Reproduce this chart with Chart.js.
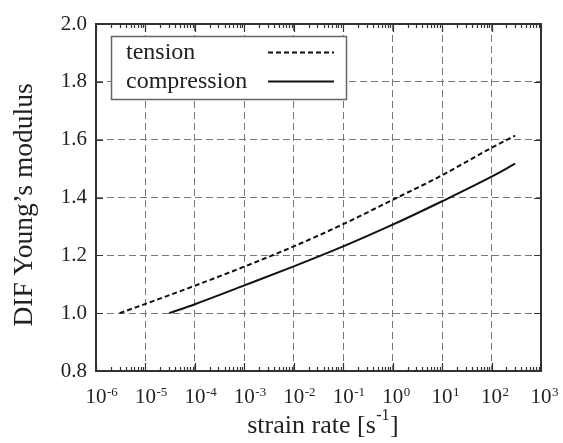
<!DOCTYPE html>
<html>
<head>
<meta charset="utf-8">
<script src="https://cdn.jsdelivr.net/npm/chart.js@4.4.0/dist/chart.umd.min.js"></script>
<style>
  html, body { margin: 0; padding: 0; background: #fff; }
  canvas { display: block; }
</style>
</head>
<body>
<canvas id="difChart" width="563" height="443"></canvas>
<script>
// strain rate [1/s] and dynamic increase factor of Young's modulus
const tensionRate = [3e-6, 1e-5, 1e-4, 1e-3, 1e-2, 1e-1, 1, 10, 100, 300];
const tensionDIF  = [1.000, 1.032, 1.095, 1.161, 1.231, 1.308, 1.392, 1.477, 1.572, 1.614];

const compressionRate = [3e-5, 1e-4, 1e-3, 1e-2, 1e-1, 1, 10, 100, 300];
const compressionDIF  = [1.000, 1.031, 1.096, 1.162, 1.231, 1.306, 1.387, 1.472, 1.517];

const decades = [-6, -5, -4, -3, -2, -1, 0, 1, 2, 3];
const yTicks = [0.8, 1.0, 1.2, 1.4, 1.6, 1.8, 2.0];

const serif = '"Liberation Serif", "Times New Roman", serif';
const ink = '#222';

const toPoints = (xs, ys) => xs.map((x, i) => ({ x: x, y: ys[i] }));

// frame, inward ticks, superscript tick labels, titles and the legend box
const decorations = {
  id: 'decorations',
  afterDraw(chart) {
    const ctx = chart.ctx;
    const area = chart.chartArea;
    const xs = chart.scales.x;
    const ys = chart.scales.y;

    ctx.save();
    ctx.strokeStyle = '#333';
    ctx.lineWidth = 1.2;

    // minor + major ticks on bottom and top
    ctx.beginPath();
    decades.forEach((e, i) => {
      const px = Math.round(xs.getPixelForValue(Math.pow(10, e))) + 0.5;
      ctx.moveTo(px, area.bottom); ctx.lineTo(px, area.bottom - 8);
      ctx.moveTo(px, area.top); ctx.lineTo(px, area.top + 8);
      if (i < decades.length - 1) {
        for (let k = 2; k <= 9; k++) {
          const mx = Math.round(xs.getPixelForValue(k * Math.pow(10, e))) + 0.5;
          ctx.moveTo(mx, area.bottom); ctx.lineTo(mx, area.bottom - 4);
          ctx.moveTo(mx, area.top); ctx.lineTo(mx, area.top + 4);
        }
      }
    });
    // ticks on left and right
    yTicks.forEach(v => {
      const py = Math.round(ys.getPixelForValue(v)) + 0.5;
      ctx.moveTo(area.left, py); ctx.lineTo(area.left + 7, py);
      ctx.moveTo(area.right, py); ctx.lineTo(area.right - 7, py);
    });
    ctx.stroke();

    // frame
    ctx.lineWidth = 2;
    ctx.strokeRect(area.left, area.top, area.right - area.left, area.bottom - area.top);

    // x tick labels 10^n
    ctx.fillStyle = ink;
    ctx.textBaseline = 'alphabetic';
    decades.forEach(e => {
      const px = xs.getPixelForValue(Math.pow(10, e));
      ctx.font = '21px ' + serif;
      const w = ctx.measureText('10').width;
      ctx.textAlign = 'left';
      ctx.fillText('10', px - w / 2, area.bottom + 32);
      ctx.font = '13px ' + serif;
      ctx.fillText(String(e), px + w / 2 + 0.5, area.bottom + 25);
    });

    // x title with superscript
    ctx.font = '26px ' + serif;
    const head = 'strain rate [s';
    const tail = ']';
    const wHead = ctx.measureText(head).width;
    const wTail = ctx.measureText(tail).width;
    ctx.font = '16px ' + serif;
    const sup = '-1';
    const wSup = ctx.measureText(sup).width;
    const total = wHead + wSup + 1 + wTail;
    let tx = 323 - total / 2;
    const tBase = 433;
    ctx.font = '26px ' + serif;
    ctx.fillText(head, tx, tBase);
    ctx.font = '16px ' + serif;
    ctx.fillText(sup, tx + wHead + 0.5, tBase - 13);
    ctx.font = '26px ' + serif;
    ctx.fillText(tail, tx + wHead + wSup + 1, tBase);

    // y title
    ctx.save();
    ctx.translate(32, 205);
    ctx.rotate(-Math.PI / 2);
    ctx.textAlign = 'center';
    ctx.font = '27.5px ' + serif;
    ctx.fillText('DIF Young\u2019s modulus', 0, 0);
    ctx.restore();

    // legend
    ctx.fillStyle = '#fff';
    ctx.fillRect(112, 37, 235, 63);
    ctx.strokeStyle = '#666';
    ctx.lineWidth = 1.5;
    ctx.strokeRect(111.5, 36.5, 235, 63);

    ctx.font = '24px ' + serif;
    ctx.fillStyle = ink;
    ctx.textAlign = 'left';
    const rows = [59, 88];
    chart.data.datasets.forEach((ds, i) => {
      ctx.fillText(ds.label, 126, rows[i]);
      ctx.strokeStyle = ds.borderColor;
      ctx.lineWidth = ds.borderWidth;
      ctx.setLineDash(ds.borderDash || []);
      ctx.beginPath();
      ctx.moveTo(268, rows[i] - 6.5);
      ctx.lineTo(334, rows[i] - 6.5);
      ctx.stroke();
    });
    ctx.setLineDash([]);
    ctx.restore();
  }
};

new Chart(document.getElementById('difChart').getContext('2d'), {
  type: 'line',
  data: {
    datasets: [
      {
        label: 'tension',
        data: toPoints(tensionRate, tensionDIF),
        borderColor: '#111',
        borderWidth: 2,
        borderDash: [5, 3],
        pointRadius: 0,
        cubicInterpolationMode: 'monotone',
        fill: false
      },
      {
        label: 'compression',
        data: toPoints(compressionRate, compressionDIF),
        borderColor: '#111',
        borderWidth: 2,
        pointRadius: 0,
        cubicInterpolationMode: 'monotone',
        fill: false
      }
    ]
  },
  options: {
    responsive: false,
    animation: false,
    layout: { padding: { top: 24, right: 22, left: 0, bottom: 0 } },
    plugins: {
      legend: { display: false },
      tooltip: { enabled: false }
    },
    scales: {
      x: {
        type: 'logarithmic',
        min: 1e-6,
        max: 1e3,
        afterBuildTicks: scale => {
          scale.ticks = decades.map(e => ({ value: Math.pow(10, e) }));
        },
        afterFit: scale => { scale.height = 72; },
        ticks: { display: false },
        grid: { color: '#777', lineWidth: 1, drawTicks: false },
        border: { display: false, dash: [7, 4] }
      },
      y: {
        min: 0.8,
        max: 2.0,
        afterBuildTicks: scale => {
          scale.ticks = yTicks.map(v => ({ value: v }));
        },
        afterFit: scale => { scale.width = 96; },
        ticks: {
          color: ink,
          padding: 9,
          font: { family: serif, size: 21 },
          callback: v => v.toFixed(1)
        },
        grid: { color: '#777', lineWidth: 1, drawTicks: false },
        border: { display: false, dash: [7, 4] }
      }
    }
  },
  plugins: [decorations]
});
</script>
</body>
</html>
